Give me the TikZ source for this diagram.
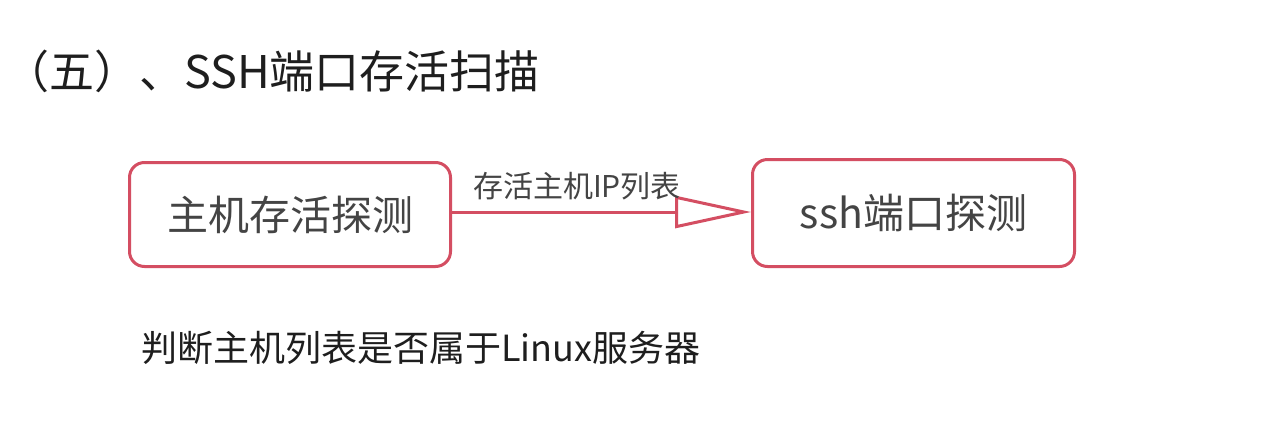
\documentclass[tikz,border=0pt]{standalone}
\usepackage{fontspec}
\setmainfont{Noto Sans CJK SC}
\usetikzlibrary{arrows.meta}
\definecolor{boxred}{RGB}{212,78,98}
\definecolor{txtgray}{RGB}{68,68,68}
\definecolor{titleblk}{RGB}{30,30,30}
\tikzset{
  procbox/.style={draw=boxred, line width=3pt, rounded corners=15pt, fill=white, inner sep=0pt, anchor=north west},
  boxtext/.style={text=txtgray, font=\fontsize{41}{46}\selectfont},
  conn/.style={draw=boxred, line width=3pt, -{Triangle[open, length=76pt, width=32pt, line width=3pt]}},
}
\begin{document}
\begin{tikzpicture}[x=1pt,y=-1pt]
\useasboundingbox (0,0) rectangle (1265,426);
\fill[white] (0,0) rectangle (1265,426);
% title
\node[anchor=west, text=titleblk, font=\fontsize{45}{50}\selectfont, inner sep=0pt] (title) at (4,71) {（五）、SSH端口存活扫描};
% boxes
\node[procbox, minimum width=321pt, minimum height=104pt] (b1) at (128,161) {};
\node[boxtext] (t1) at (b1.center) {主机存活探测};
\node[procbox, minimum width=322pt, minimum height=107pt] (b2) at (751,158) {};
\node[boxtext] (t2) at (b2.center) {ssh端口探测};
% connector
\coordinate (a1) at (b1.east |- 0,212);
\coordinate (a2) at (b2.west |- 0,212);
\draw[conn] (a1) -- (a2);
\node[anchor=center, text=txtgray, font=\fontsize{30}{34}\selectfont, inner sep=0pt] (lbl) at (577,186) {存活主机IP列表};
% bottom text
\node[anchor=west, text=titleblk, font=\fontsize{36}{40}\selectfont, inner sep=0pt] (note) at (141,348) {判断主机列表是否属于Linux服务器};
\end{tikzpicture}
\end{document}
